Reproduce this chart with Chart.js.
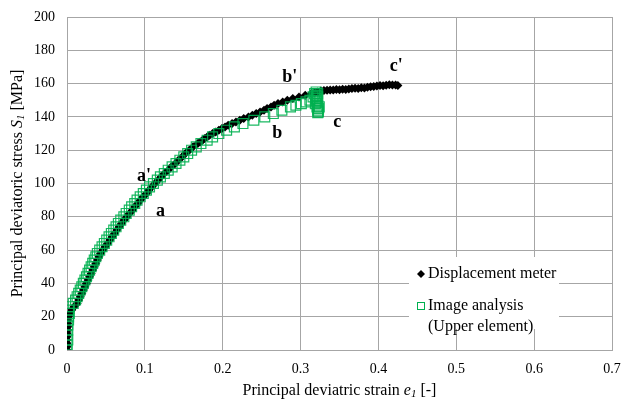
<!DOCTYPE html>
<html>
<head>
<meta charset="utf-8">
<script src="https://cdn.jsdelivr.net/npm/chart.js@4.4.1/dist/chart.umd.min.js"></script>
<style>
html,body{margin:0;padding:0;background:#fff;}
#wrap{width:623px;height:401px;position:relative;}
</style>
</head>
<body>
<div id="wrap"><canvas id="c" width="623" height="401"></canvas></div>
<script>
// Displacement meter (black diamonds)
const dispStrain = [0,0,0,0,0,0,0.001,0.001,0.001,0.001,
 0.002,0.004,0.006,0.009,0.013,0.015,0.017,0.019,0.021,0.023,0.025,0.027,0.029,0.031,0.033,0.035,0.037,0.039,0.041,0.043,
 0.046,0.049,0.052,0.055,0.058,0.061,0.064,0.067,0.070,0.073,0.077,0.080,0.084,0.087,0.091,0.094,0.098,0.102,0.105,0.109,
 0.113,0.117,0.121,0.125,0.130,0.134,0.139,0.143,0.148,0.152,0.157,0.162,0.168,0.171,0.174,0.177,0.180,0.183,0.187,0.191,0.195,0.199,0.203,0.207,0.212,0.217,0.222,0.227,
 0.233,0.238,0.243,0.248,0.253,0.257,0.262,0.266,0.271,0.277,0.283,0.290,0.298,0.306,0.314,
 0.318,0.322,0.326,0.330,0.334,0.338,0.342,0.346,0.350,0.354,0.358,0.362,0.366,0.370,0.374,0.378,0.382,0.386,0.390,0.394,0.398,0.402,0.406,0.410,0.414,0.418,0.422,0.425];
const dispStress = [0,2,4,6,8,10,12,14,16,18,
 20,22,24,26,28,30,32,34,36,38,40,42,44,46,48,50,52,54,56,58,
 60,62,64,66,68,70,72,74,76,78,80,82,84,86,88,90,92,94,96,98,
 100,102,104,106,108,110,112,114,116,118,120,122,124,125,126,127,128,129,130,131,132,133,134,135,136,137,138,139,
 140,141,142,143,144,145,146,147,148,149,150,151,152,153,154,
 154.5,155,155.5,155.8,156,156.2,156.1,156.4,156.3,156.6,156.5,156.8,157,157.2,157.1,157.5,157.4,157.8,158.1,158.3,158.6,158.8,158.7,159,159.3,159.2,159.1,158.8];

// Image analysis, upper element (green squares)
const imgStrain = [0,0,0.001,0,0.001,0.001,0.002,0.002,0.003,0.002,0.003,
 0.008,0.011,0.013,0.015,0.017,0.019,0.021,0.023,0.025,0.027,0.029,0.031,0.033,0.035,0.037,0.039,
 0.042,0.045,0.048,0.051,0.054,0.057,0.060,0.063,0.066,0.069,0.073,0.076,0.080,0.083,0.087,0.090,0.094,0.098,
 0.102,0.106,0.111,0.116,0.120,0.125,0.130,0.135,0.140,0.145,0.150,0.155,0.160,0.166,0.172,0.180,0.187,0.195,
 0.205,0.215,0.226,0.240,0.254,0.265,0.276,0.287,0.294,0.301,0.307,0.312,
 0.316,0.318,0.320,0.322,0.320,0.322,0.321,0.322,0.323,0.322,0.320,0.321,0.319,0.321,0.323,0.324,0.322];
const imgStress = [0,3,6,9,12,15,18,20,22,24,26,
 28,30,32,34,36,38,40,42,44,46,48,50,52,54,56,58,
 60,62,64,66,68,70,72,74,76,78,80,82,84,86,88,90,92,94,
 96,98,100,102,104,106,108,110,112,114,116,118,120,122,124,126,128,130,
 132,134,136,138,140,142,144,146,147,148,149,150,
 152,154,155,154,153,152,149,147,145,144,151,150,148,146,143,146,142.5];

// Point labels
const labelText = ["a'", "a", "b'", "b", "c", "c'"];
const labelStrain = [0.099, 0.120, 0.286, 0.270, 0.347, 0.423];
const labelStress = [104.4, 83.4, 163.8, 130.2, 136.8, 170.4];

const xTicks = [0,0.1,0.2,0.3,0.4,0.5,0.6,0.7];
const yTicks = [0,20,40,60,80,100,120,140,160,180,200];

const legendNames = ["Displacement meter", "Image analysis", "(Upper element)"];

const GREEN = '#00B050';
const SERIF = '"Liberation Serif", "Times New Roman", serif';

function pts(xs, ys){ return xs.map((x,i)=>({x:x, y:ys[i]})); }

const overlay = {
  id: 'overlay',
  afterDraw(chart){
    const ctx = chart.ctx;
    const xs = chart.scales.x, ys = chart.scales.y;
    ctx.save();
    // point labels
    ctx.fillStyle = '#000';
    ctx.font = 'bold 18px ' + SERIF;
    ctx.textAlign = 'center';
    ctx.textBaseline = 'middle';
    labelText.forEach((t,i)=>{
      ctx.fillText(t, xs.getPixelForValue(labelStrain[i]), ys.getPixelForValue(labelStress[i]));
    });
    // legend box
    ctx.fillStyle = '#fff';
    ctx.fillRect(409, 257, 150, 72);
    ctx.fillStyle = '#000';
    ctx.font = '16px ' + SERIF;
    ctx.textAlign = 'left';
    ctx.textBaseline = 'middle';
    // diamond
    ctx.beginPath();
    ctx.moveTo(421, 270); ctx.lineTo(425, 274); ctx.lineTo(421, 278); ctx.lineTo(417, 274); ctx.closePath();
    ctx.fill();
    ctx.fillText(legendNames[0], 428, 274);
    // square
    ctx.strokeStyle = GREEN; ctx.lineWidth = 1;
    ctx.strokeRect(417.5, 302.5, 7, 7);
    ctx.fillText(legendNames[1], 428, 306);
    ctx.fillText(legendNames[2], 428, 327);

    // x title
    const cx = (chart.chartArea.left + chart.chartArea.right)/2;
    const parts = [
      {t:'Principal deviatric strain ', f:'16px '+SERIF, dy:0},
      {t:'e', f:'italic 16px '+SERIF, dy:0},
      {t:'1', f:'italic 11px '+SERIF, dy:3},
      {t:' [-]', f:'16px '+SERIF, dy:0}
    ];
    drawParts(ctx, parts, cx, 391);
    const cy = (chart.chartArea.top + chart.chartArea.bottom)/2;
    const partsY = [
      {t:'Principal deviatoric stress ', f:'16px '+SERIF, dy:0},
      {t:'S', f:'italic 16px '+SERIF, dy:0},
      {t:'1', f:'italic 11px '+SERIF, dy:3},
      {t:' [MPa]', f:'16px '+SERIF, dy:0}
    ];
    ctx.translate(18, cy);
    ctx.rotate(-Math.PI/2);
    drawParts(ctx, partsY, 0, 0);
    ctx.restore();
  }
};
function drawParts(ctx, parts, cx, cy){
  let w = 0;
  parts.forEach(p=>{ ctx.font = p.f; w += ctx.measureText(p.t).width; });
  let x = cx - w/2;
  ctx.textAlign = 'left';
  ctx.textBaseline = 'middle';
  ctx.fillStyle = '#000';
  parts.forEach(p=>{ ctx.font = p.f; ctx.fillText(p.t, x, cy + p.dy); x += ctx.measureText(p.t).width; });
}

new Chart(document.getElementById('c'), {
  type: 'scatter',
  data: {
    datasets: [
      {
        label: legendNames[0],
        data: pts(dispStrain, dispStress),
        pointStyle: 'rectRot',
        pointRadius: 4.5,
        backgroundColor: '#000',
        borderColor: '#000',
        borderWidth: 0,
        order: 1
      },
      {
        label: legendNames[1] + ' ' + legendNames[2],
        data: pts(imgStrain, imgStress),
        pointStyle: 'rect',
        pointRadius: 7,
        backgroundColor: 'rgba(0,0,0,0)',
        borderColor: 'rgba(0,176,80,0.9)',
        borderWidth: 1.2,
        order: 0
      }
    ]
  },
  options: {
    responsive: false,
    animation: false,
    devicePixelRatio: 1,
    layout: { padding: { left: 0, top: 17, right: 11, bottom: 0 } },
    plugins: { legend: { display: false }, tooltip: { enabled: false } },
    scales: {
      x: {
        type: 'linear', min: 0, max: 0.7,
        afterBuildTicks: s => { s.ticks = xTicks.map(v=>({value:v})); },
        afterFit: s => { s.height = 51; s.paddingLeft = 0; s.paddingRight = 0; },
        grid: { color: '#a6a6a6', lineWidth: 1, drawTicks: false },
        border: { color: '#a6a6a6' },
        ticks: { color: '#000', font: { family: SERIF, size: 14 }, padding: 11, maxRotation: 0,
                 callback: v => String(v) }
      },
      y: {
        type: 'linear', min: 0, max: 200,
        afterBuildTicks: s => { s.ticks = yTicks.map(v=>({value:v})); },
        afterFit: s => { s.width = 67; s.paddingTop = 0; s.paddingBottom = 0; },
        grid: { color: '#a6a6a6', lineWidth: 1, drawTicks: false },
        border: { color: '#a6a6a6' },
        ticks: { color: '#000', font: { family: SERIF, size: 14 }, padding: 12 }
      }
    }
  },
  plugins: [overlay]
});
</script>
</body>
</html>
